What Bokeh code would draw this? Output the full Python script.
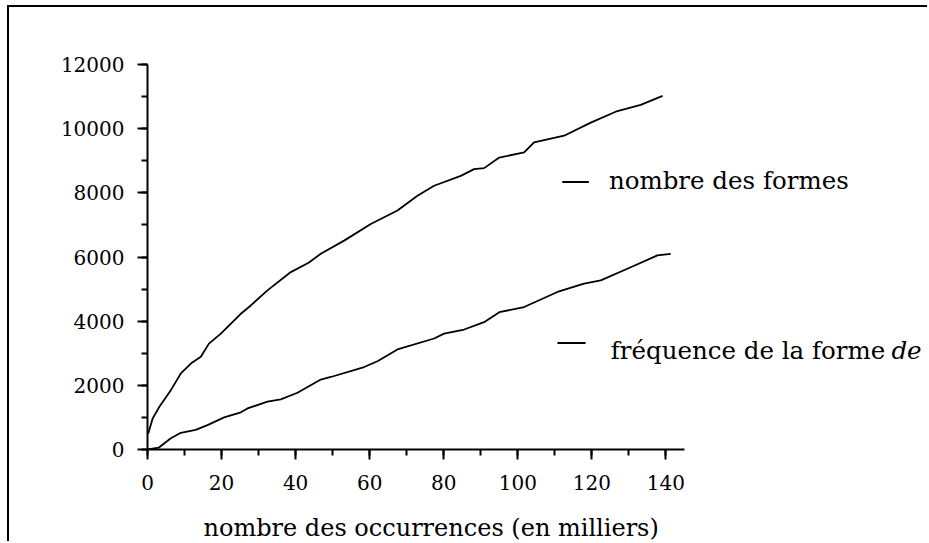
from bokeh.plotting import figure
from bokeh.models import Range1d, SingleIntervalTicker, Title
from bokeh.core.properties import value
from bokeh.embed import file_html
from bokeh.resources import INLINE

# --- data ---
occ_formes = [0.2, 1.4, 3.3, 6.3, 9.0, 11.7, 14.4, 16.6, 19.8, 25.2, 27.9, 32.4,
              38.7, 43.5, 46.8, 53.1, 60.3, 67.5, 72.9, 77.4, 84.6, 88.2, 90.9,
              95.0, 101.7, 104.4, 112.5, 119.7, 126.9, 133.2, 139.1]
nb_formes = [500, 970, 1350, 1850, 2370, 2680, 2890, 3300, 3610, 4230, 4490, 4960,
             5530, 5820, 6100, 6510, 7030, 7450, 7910, 8220, 8530, 8740, 8770,
             9100, 9260, 9570, 9780, 10190, 10550, 10740, 11020]

occ_de = [0.0, 3.1, 6.3, 9.0, 13.0, 16.2, 20.7, 25.2, 27.0, 32.4, 36.0, 40.5,
          46.8, 49.5, 58.5, 62.1, 67.5, 77.4, 80.1, 85.5, 90.9, 95.0, 101.7,
          110.7, 117.9, 122.4, 130.5, 137.7, 141.3]
freq_de = [0, 60, 350, 520, 610, 760, 1000, 1160, 1280, 1490, 1560, 1770,
           2180, 2260, 2570, 2750, 3120, 3460, 3610, 3740, 3970, 4280, 4440,
           4910, 5170, 5270, 5680, 6050, 6100]

x_ticks = [0, 20, 40, 60, 80, 100, 120, 140]
y_ticks = [0, 2000, 4000, 6000, 8000, 10000, 12000]
legend_labels = ["nombre des formes", "fréquence de la forme"]
italic_word = "de"
x_title = "nombre des occurrences (en milliers)"

FONT = "DejaVu Serif"

p = figure(width=920, height=536, x_range=Range1d(0, 210.1), y_range=Range1d(0, 12000),
           output_backend="svg", toolbar_location=None,
           min_border_left=138, min_border_top=57, min_border_bottom=93, min_border_right=4)
p.styles = {"margin-left": "7px", "margin-top": "5px",
            "border-top": "2px solid black", "border-left": "2px solid black"}
p.outline_line_color = None
p.grid.visible = False
p.background_fill_color = "white"
p.border_fill_color = "white"

for ax in (p.xaxis[0], p.yaxis[0]):
    ax.axis_line_width = 2
    ax.axis_line_color = "black"
    ax.major_tick_line_width = 2
    ax.minor_tick_line_width = 2
    ax.major_tick_line_color = "black"
    ax.minor_tick_line_color = "black"
    ax.major_tick_in = 0
    ax.minor_tick_in = 0
    ax.major_tick_out = 10
    ax.minor_tick_out = 6
    ax.major_label_text_font = FONT
    ax.major_label_text_font_size = "20px"
    ax.major_label_text_color = "black"
    ax.major_label_standoff = 13

p.xaxis[0].ticker = SingleIntervalTicker(interval=x_ticks[1] - x_ticks[0], num_minor_ticks=2)
p.yaxis[0].ticker = SingleIntervalTicker(interval=y_ticks[1] - y_ticks[0], num_minor_ticks=2)
p.xaxis[0].bounds = (0, 145)
p.xaxis[0].major_label_standoff = 15
# invisible spacer label to push the title panel down
p.xaxis[0].axis_label = " "
p.xaxis[0].axis_label_text_font_size = "1px"
p.xaxis[0].axis_label_standoff = 13

p.line(occ_formes, nb_formes, line_color="black", line_width=1.8)
p.line(occ_de, freq_de, line_color="black", line_width=1.8)

# legend marks
p.segment(x0=[112.0, 110.7], y0=[8340, 3317], x1=[119.2, 118.3], y1=[8340, 3317],
          line_color="black", line_width=2)
p.text(x=[124.6, 125.1], y=[8374, 3080], text=legend_labels,
       text_font=value(FONT), text_font_size="24.5px", text_baseline="middle",
       text_color="black")
p.text(x=[200.9], y=[3080], text=[italic_word], text_font=value(FONT),
       text_font_style="italic", text_font_size="24.5px", text_baseline="middle",
       text_color="black")

p.add_layout(Title(text=x_title, align="left", offset=56, text_font=FONT,
                   text_font_size="24px", text_font_style="normal", text_color="black",
                   standoff=4), "below")

open("out.html", "w").write(file_html(p, INLINE))
